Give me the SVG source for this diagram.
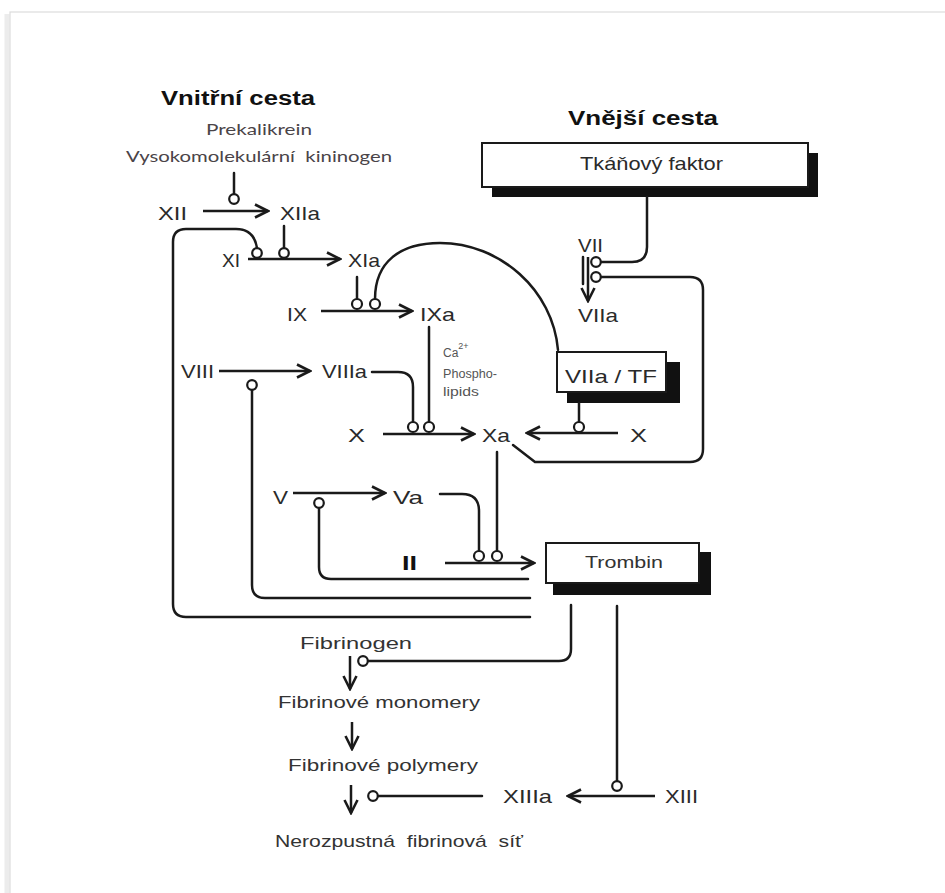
<svg xmlns="http://www.w3.org/2000/svg" width="945" height="893" viewBox="0 0 945 893">
<defs>
<marker id="arr" markerUnits="userSpaceOnUse" viewBox="0 0 16 16" refX="14" refY="8" markerWidth="16" markerHeight="16" orient="auto">
<path d="M1,1.5 L14,8 L1,14.5" fill="none" stroke="#1a1a1a" stroke-width="2.6"/>
</marker>
<style>
.ln{fill:none;stroke:#1a1a1a;stroke-width:2.5;stroke-linecap:round}
.ar{fill:none;stroke:#1a1a1a;stroke-width:2.5;marker-end:url(#arr)}
.inh{fill:#fff;stroke:#1a1a1a;stroke-width:2.2}
.lb{font-family:"Liberation Sans",Arial,sans-serif;font-size:19px;fill:#2a2a2a}
.tt{font-family:"Liberation Sans",Arial,sans-serif;font-size:20px;font-weight:bold;fill:#111}
.cb{font-family:Lato,"Liberation Sans",sans-serif;font-size:16px;fill:#4a4448}
.sm{font-family:"Liberation Sans",Arial,sans-serif;font-size:12px;fill:#555}
.fb{font-family:"Liberation Sans",Arial,sans-serif;font-size:17px;fill:#333}
.box{fill:#fff;stroke:#1a1a1a;stroke-width:2}
.sh{fill:#111}
</style>
</defs>
<rect x="0" y="0" width="945" height="893" fill="#fff"/>
<line x1="7" y1="14" x2="7" y2="893" stroke="#ececec" stroke-width="5"/>
<rect x="10" y="12" width="1000" height="1000" fill="none" stroke="#dcdcdc" stroke-width="1.2"/>

<g id="titles">
<text class="tt" x="161" y="105" textLength="154" lengthAdjust="spacingAndGlyphs">Vnitřní cesta</text>
<text class="tt" x="568" y="125" textLength="150" lengthAdjust="spacingAndGlyphs">Vnější cesta</text>
</g>

<g id="prekalikrein"><text class="cb" x="206" y="135" textLength="106" lengthAdjust="spacingAndGlyphs">Prekalikrein</text></g>
<g id="kininogen"><text class="cb" x="126" y="162" textLength="266" lengthAdjust="spacingAndGlyphs" xml:space="preserve">Vysokomolekulární  kininogen</text></g>

<g id="tkanovy-faktor">
<rect class="sh" x="492" y="153" width="326" height="44"/>
<rect class="box" x="482" y="143" width="326" height="44"/>
<text class="lb" x="580" y="170" font-size="18" textLength="143" lengthAdjust="spacingAndGlyphs">Tkáňový faktor</text>
</g>

<g id="XII"><text class="lb" x="158" y="220" textLength="29" lengthAdjust="spacingAndGlyphs">XII</text></g>
<g id="XIIa"><text class="lb" x="280" y="220" textLength="40" lengthAdjust="spacingAndGlyphs">XIIa</text></g>
<g id="XI"><text class="lb" x="222" y="267" textLength="18" lengthAdjust="spacingAndGlyphs">XI</text></g>
<g id="XIa"><text class="lb" x="348" y="267" textLength="32" lengthAdjust="spacingAndGlyphs">XIa</text></g>
<g id="IX"><text class="lb" x="287" y="321" textLength="20" lengthAdjust="spacingAndGlyphs">IX</text></g>
<g id="IXa"><text class="lb" x="420" y="321" textLength="35" lengthAdjust="spacingAndGlyphs">IXa</text></g>
<g id="VII"><text class="lb" x="578" y="252" textLength="25" lengthAdjust="spacingAndGlyphs">VII</text></g>
<g id="VIIa"><text class="lb" x="578" y="322" textLength="40" lengthAdjust="spacingAndGlyphs">VIIa</text></g>
<g id="VIII"><text class="lb" x="181" y="378" textLength="33" lengthAdjust="spacingAndGlyphs">VIII</text></g>
<g id="VIIIa"><text class="lb" x="322" y="378" textLength="45" lengthAdjust="spacingAndGlyphs">VIIIa</text></g>
<g id="cofactors">
<text class="sm" x="443" y="357">Ca<tspan font-size="9" dy="-8">2+</tspan></text>
<text class="sm" x="443" y="378" textLength="54" lengthAdjust="spacingAndGlyphs">Phospho-</text>
<text class="sm" x="443" y="396" textLength="36" lengthAdjust="spacingAndGlyphs">lipids</text>
</g>
<g id="VIIa-TF">
<rect class="sh" x="567" y="362" width="113" height="41"/>
<rect class="box" x="557" y="352" width="109" height="40"/>
<text class="lb" x="565" y="383" font-size="20" textLength="92" lengthAdjust="spacingAndGlyphs">VIIa / TF</text>
</g>
<g id="X-left"><text class="lb" x="348" y="442" textLength="17" lengthAdjust="spacingAndGlyphs">X</text></g>
<g id="Xa"><text class="lb" x="482" y="442" textLength="28" lengthAdjust="spacingAndGlyphs">Xa</text></g>
<g id="X-right"><text class="lb" x="630" y="442" textLength="17" lengthAdjust="spacingAndGlyphs">X</text></g>
<g id="V"><text class="lb" x="273" y="504" textLength="15" lengthAdjust="spacingAndGlyphs">V</text></g>
<g id="Va"><text class="lb" x="393" y="504" textLength="30" lengthAdjust="spacingAndGlyphs">Va</text></g>
<g id="II"><text class="tt" x="402" y="570" font-size="25" textLength="15" lengthAdjust="spacingAndGlyphs">II</text></g>
<g id="trombin">
<rect class="sh" x="553" y="552" width="158" height="43"/>
<rect class="box" x="546" y="543" width="153" height="40"/>
<text class="fb" x="585" y="568" textLength="78" lengthAdjust="spacingAndGlyphs">Trombin</text>
</g>
<g id="fibrinogen"><text class="fb" x="300" y="649" textLength="112" lengthAdjust="spacingAndGlyphs">Fibrinogen</text></g>
<g id="monomery"><text class="fb" x="278" y="708" textLength="202" lengthAdjust="spacingAndGlyphs">Fibrinové monomery</text></g>
<g id="polymery"><text class="fb" x="288" y="771" textLength="190" lengthAdjust="spacingAndGlyphs">Fibrinové polymery</text></g>
<g id="XIIIa"><text class="lb" x="503" y="803" textLength="49" lengthAdjust="spacingAndGlyphs">XIIIa</text></g>
<g id="XIII"><text class="lb" x="665" y="803" textLength="33" lengthAdjust="spacingAndGlyphs">XIII</text></g>
<g id="sit"><text class="fb" x="275" y="847" textLength="248" lengthAdjust="spacingAndGlyphs" xml:space="preserve">Nerozpustná  fibrinová  síť</text></g>

<g id="connectors">
<!-- conversion arrows -->
<path class="ar" d="M203,211 H268"/>
<path class="ar" d="M248,259 H340"/>
<path class="ar" d="M321,311 H412"/>
<path class="ar" d="M219,371 H310"/>
<path class="ar" d="M383,434 H474"/>
<path class="ar" d="M618,433 H527"/>
<path class="ar" d="M293,493 H385"/>
<path class="ar" d="M445,563 H534"/>
<path class="ar" d="M655,796 H568"/>
<path class="ar" d="M588,257 V301"/>
<path class="ln" d="M583,257 V284"/>
<path class="ar" d="M350,656 V689"/>
<path class="ar" d="M352,722 V749"/>
<path class="ar" d="M351,785 V813"/>
<!-- activator lines -->
<path class="ln" d="M234,173 V194"/>
<path class="ln" d="M284,226 V248"/>
<path class="ln" d="M530,617 H186 Q173,617 173,604 V242 Q173,229 186,229 H236 Q254,229 257,248"/>
<path class="ln" d="M357,277 V299"/>
<path class="ln" d="M375,299 C375,262 400,243 440,243 C500,243 553,290 558,350"/>
<path class="ln" d="M647,197 V247 Q647,262 632,262 H601"/>
<path class="ln" d="M513,445 L535,462 H690 Q703,462 703,449 V290 Q703,277 690,277 H601"/>
<path class="ln" d="M429,327 V422"/>
<path class="ln" d="M372,372 H398 Q413,372 413,387 V422"/>
<path class="ln" d="M579,403 V422"/>
<path class="ln" d="M252,390 V585 Q252,598 265,598 H530"/>
<path class="ln" d="M319,508 V567 Q319,579 331,579 H528"/>
<path class="ln" d="M440,494 H462 Q479,494 479,511 V551"/>
<path class="ln" d="M497,452 V551"/>
<path class="ln" d="M571,605 V649 Q571,661 559,661 H368"/>
<path class="ln" d="M617,606 V781"/>
<path class="ln" d="M378,796 H482"/>
<!-- inhibitor/activation circles -->
<circle class="inh" cx="234" cy="199" r="4.8"/>
<circle class="inh" cx="257" cy="253" r="4.8"/>
<circle class="inh" cx="284" cy="253" r="4.8"/>
<circle class="inh" cx="357" cy="304" r="5"/>
<circle class="inh" cx="375" cy="304" r="5"/>
<circle class="inh" cx="596" cy="262" r="4.8"/>
<circle class="inh" cx="596" cy="277" r="4.8"/>
<circle class="inh" cx="252" cy="385" r="4.8"/>
<circle class="inh" cx="413" cy="427" r="5"/>
<circle class="inh" cx="429" cy="427" r="5"/>
<circle class="inh" cx="579" cy="427" r="5"/>
<circle class="inh" cx="319" cy="503" r="4.8"/>
<circle class="inh" cx="479" cy="556" r="5"/>
<circle class="inh" cx="497" cy="556" r="5"/>
<circle class="inh" cx="363" cy="661" r="4.8"/>
<circle class="inh" cx="373" cy="796" r="4.8"/>
<circle class="inh" cx="617" cy="786" r="4.8"/>
</g>
</svg>
